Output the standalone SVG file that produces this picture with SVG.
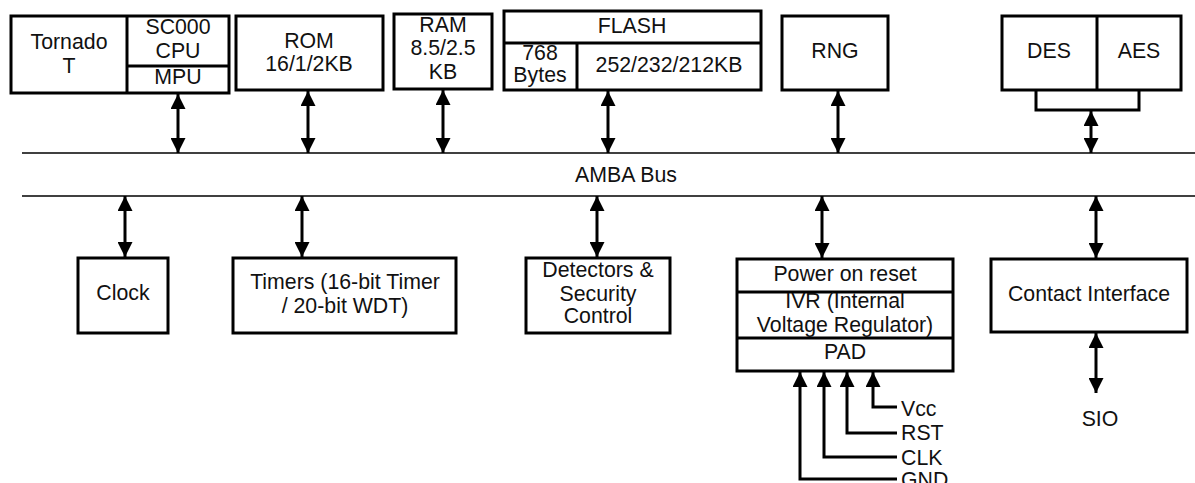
<svg xmlns="http://www.w3.org/2000/svg" width="1195" height="483" viewBox="0 0 1195 483">
<defs>
<marker id="ah" viewBox="0 0 15 15" refX="15" refY="7.5" markerWidth="15" markerHeight="15" markerUnits="userSpaceOnUse" orient="auto-start-reverse">
<path d="M0,0 L15,7.5 L0,15 z" fill="#000"/>
</marker>
<style>
.box{fill:#fff;stroke:#000;stroke-width:3}
.div{stroke:#000;stroke-width:3;fill:none}
.bus{stroke:#000;stroke-width:1.5}
.con{stroke:#000;stroke-width:3;fill:none}
.dbl{marker-start:url(#ah);marker-end:url(#ah)}
.one{marker-end:url(#ah)}
text{font-family:"Liberation Sans",Arial,sans-serif;font-size:21.3px;fill:#111;text-anchor:middle}
.l{text-anchor:start}
</style>
</defs>
<rect width="1195" height="483" fill="#fff"/>

<g id="bus">
<line class="bus" x1="22" y1="153" x2="1195" y2="153"/>
<line class="bus" x1="22" y1="196" x2="1195" y2="196"/>
<text x="626" y="182">AMBA Bus</text>
</g>

<g id="cpu">
<rect class="box" x="11" y="16" width="218" height="77"/>
<line class="div" x1="127" y1="16" x2="127" y2="93"/>
<line class="div" x1="127" y1="66" x2="229" y2="66"/>
<text x="69" y="49">Tornado</text>
<text x="69" y="73">T</text>
<text x="178" y="34">SC000</text>
<text x="178" y="58">CPU</text>
<text x="178" y="84">MPU</text>
</g>

<g id="rom">
<rect class="box" x="236" y="16" width="147" height="74"/>
<text x="309" y="48">ROM</text>
<text x="309" y="71">16/1/2KB</text>
</g>

<g id="ram">
<rect class="box" x="394" y="14" width="98" height="75"/>
<text x="443" y="32">RAM</text>
<text x="443" y="55">8.5/2.5</text>
<text x="443" y="79">KB</text>
</g>

<g id="flash">
<rect class="box" x="504" y="11" width="257" height="79"/>
<line class="div" x1="504" y1="43" x2="761" y2="43"/>
<line class="div" x1="577" y1="43" x2="577" y2="90"/>
<text x="632" y="33">FLASH</text>
<text x="540" y="60">768</text>
<text x="540" y="82">Bytes</text>
<text x="669" y="72">252/232/212KB</text>
</g>

<g id="rng">
<rect class="box" x="782" y="16" width="106" height="74"/>
<text x="835" y="58">RNG</text>
</g>

<g id="crypto">
<rect class="box" x="1002" y="16" width="179" height="74"/>
<line class="div" x1="1097" y1="16" x2="1097" y2="90"/>
<text x="1049" y="58">DES</text>
<text x="1139" y="58">AES</text>
</g>

<g id="clock">
<rect class="box" x="78" y="258" width="90" height="75"/>
<text x="123" y="300">Clock</text>
</g>

<g id="timers">
<rect class="box" x="233" y="258" width="223" height="75"/>
<text x="345" y="289">Timers (16-bit Timer</text>
<text x="345" y="313">/ 20-bit WDT)</text>
</g>

<g id="detectors">
<rect class="box" x="526" y="258" width="144" height="75"/>
<text x="598" y="277">Detectors &amp;</text>
<text x="598" y="301">Security</text>
<text x="598" y="323">Control</text>
</g>

<g id="power">
<rect class="box" x="737" y="259" width="216" height="112"/>
<line class="div" x1="737" y1="292" x2="953" y2="292"/>
<line class="div" x1="737" y1="338" x2="953" y2="338"/>
<text x="845" y="281">Power on reset</text>
<text x="845" y="308">IVR (Internal</text>
<text x="845" y="332">Voltage Regulator)</text>
<text x="845" y="359">PAD</text>
</g>

<g id="contact">
<rect class="box" x="991" y="259" width="196" height="73"/>
<text x="1089" y="301">Contact Interface</text>
</g>

<g id="sio">
<text x="1100" y="426">SIO</text>
</g>

<g id="pins">
<text class="l" x="901" y="416">Vcc</text>
<text class="l" x="901" y="440">RST</text>
<text class="l" x="901" y="465">CLK</text>
<text class="l" x="901" y="487">GND</text>
</g>

<g id="connectors">
<line class="con dbl" x1="178" y1="94" x2="178" y2="153"/>
<line class="con dbl" x1="308" y1="91" x2="308" y2="153"/>
<line class="con dbl" x1="443" y1="90" x2="443" y2="153"/>
<line class="con dbl" x1="608" y1="91" x2="608" y2="153"/>
<line class="con dbl" x1="838" y1="91" x2="838" y2="153"/>
<polyline class="con" points="1036,90 1036,110 1139,110 1139,90"/>
<line class="con dbl" x1="1091" y1="111" x2="1091" y2="153"/>
<line class="con dbl" x1="125" y1="196" x2="125" y2="257"/>
<line class="con dbl" x1="302" y1="196" x2="302" y2="257"/>
<line class="con dbl" x1="597" y1="196" x2="597" y2="257"/>
<line class="con dbl" x1="822" y1="196" x2="822" y2="258"/>
<line class="con dbl" x1="1096" y1="196" x2="1096" y2="258"/>
<line class="con dbl" x1="1096" y1="333" x2="1096" y2="393"/>
<polyline class="con one" points="897,407 873,407 873,372"/>
<polyline class="con one" points="897,433 847,433 847,372"/>
<polyline class="con one" points="897,457 824,457 824,372"/>
<polyline class="con one" points="897,479 800,479 800,372"/>
</g>
</svg>
